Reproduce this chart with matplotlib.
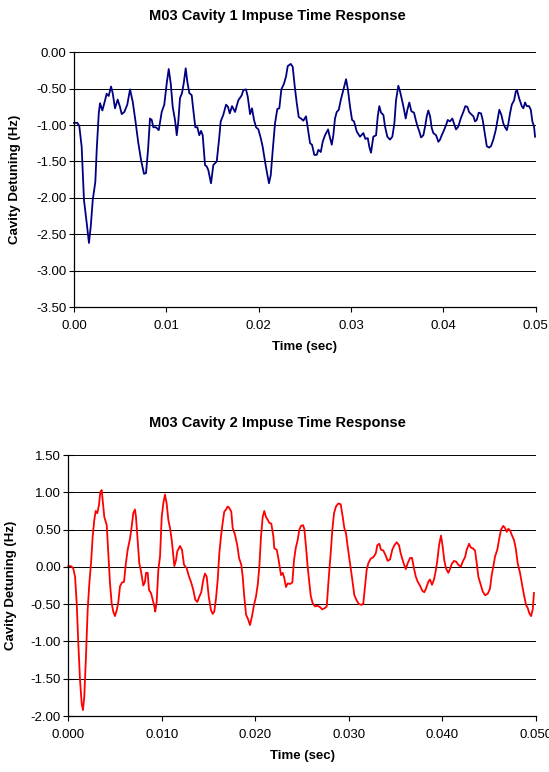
import matplotlib
matplotlib.use("Agg")
import matplotlib.pyplot as plt
import numpy as np

# Cavity 1 impulse response (time in ms, detuning in Hz)
t1_ms = [0.00, 0.36, 0.57, 0.83, 1.08, 1.38, 1.62, 1.81, 2.03, 2.31, 2.46, 2.68, 2.82, 3.07,
         3.28, 3.54, 3.76, 4.01, 4.19, 4.44, 4.73, 4.98, 5.17, 5.45, 5.77, 6.07, 6.36, 6.64,
         6.97, 7.26, 7.58, 7.80, 8.02, 8.23, 8.42, 8.59, 8.88, 9.18, 9.50, 9.78, 10.04, 10.26,
         10.48, 10.69, 10.94, 11.13, 11.30, 11.48, 11.70, 11.88, 12.10, 12.27, 12.49, 12.75,
         12.92, 13.14, 13.36, 13.57, 13.76, 13.94, 14.19, 14.38, 14.55, 14.84, 15.09, 15.46,
         15.71, 15.89, 16.17, 16.47, 16.68, 16.87, 17.12, 17.44, 17.80, 18.17, 18.34, 18.63,
         18.82, 19.07, 19.28, 19.50, 19.72, 19.97, 20.23, 20.44, 20.69, 20.91, 21.12, 21.31,
         21.53, 21.77, 22.02, 22.24, 22.46, 22.75, 22.97, 23.15, 23.48, 23.69, 23.91, 24.13,
         24.34, 24.59, 24.84, 25.13, 25.32, 25.57, 25.78, 26.03, 26.29, 26.47, 26.73, 26.94,
         27.19, 27.52, 27.66, 27.92, 28.09, 28.27, 28.46, 28.68, 28.89, 29.17, 29.47, 29.68,
         29.90, 30.12, 30.33, 30.63, 30.98, 31.34, 31.56, 31.82, 31.99, 32.17, 32.42, 32.72,
         32.90, 33.07, 33.26, 33.51, 33.69, 33.94, 34.23, 34.48, 34.70, 34.88, 35.13, 35.32,
         35.57, 35.75, 35.93, 36.11, 36.32, 36.54, 36.83, 37.02, 37.19, 37.41, 37.59, 37.84,
         38.06, 38.21, 38.38, 38.57, 38.75, 38.92, 39.22, 39.47, 39.65, 39.83, 40.08, 40.30,
         40.48, 40.73, 40.98, 41.17, 41.38, 41.63, 41.89, 42.17, 42.39, 42.61, 42.79, 43.01,
         43.26, 43.44, 43.62, 43.84, 44.09, 44.27, 44.49, 44.71, 44.96, 45.17, 45.42, 45.68,
         45.90, 46.07, 46.29, 46.51, 46.69, 46.88, 47.05, 47.23, 47.42, 47.67, 47.85, 47.99,
         48.21, 48.50, 48.67, 48.86, 49.04, 49.29, 49.48, 49.65, 49.83, 49.94]
det1 = [-0.97, -0.97, -1.01, -1.30, -2.03, -2.35, -2.62, -2.40, -2.03, -1.78, -1.34, -0.84,
        -0.70, -0.80, -0.70, -0.57, -0.60, -0.47, -0.56, -0.77, -0.65, -0.75, -0.85, -0.82,
        -0.72, -0.51, -0.68, -0.93, -1.25, -1.48, -1.67, -1.66, -1.34, -0.91, -0.93, -1.03,
        -1.03, -1.07, -0.82, -0.72, -0.43, -0.23, -0.43, -0.75, -0.93, -1.14, -0.95, -0.63,
        -0.56, -0.43, -0.22, -0.40, -0.56, -0.59, -0.79, -1.03, -1.03, -1.14, -1.08, -1.14,
        -1.55, -1.57, -1.62, -1.80, -1.55, -1.50, -1.20, -0.95, -0.86, -0.72, -0.75, -0.84,
        -0.74, -0.82, -0.66, -0.59, -0.52, -0.51, -0.61, -0.85, -0.77, -0.93, -1.03, -1.06,
        -1.18, -1.30, -1.50, -1.66, -1.80, -1.69, -1.34, -0.98, -0.78, -0.77, -0.51, -0.43,
        -0.33, -0.19, -0.16, -0.20, -0.47, -0.70, -0.89, -0.91, -0.94, -0.88, -1.04, -1.25,
        -1.27, -1.41, -1.41, -1.34, -1.37, -1.23, -1.14, -1.06, -1.14, -1.27, -1.14, -0.91,
        -0.82, -0.79, -0.66, -0.52, -0.37, -0.52, -0.75, -0.93, -0.95, -1.09, -1.16, -1.11,
        -1.19, -1.18, -1.30, -1.38, -1.16, -1.14, -0.88, -0.74, -0.83, -0.86, -1.02, -1.16,
        -1.20, -1.16, -0.98, -0.66, -0.46, -0.54, -0.68, -0.79, -0.91, -0.79, -0.69, -0.81,
        -0.83, -0.93, -1.01, -1.09, -1.17, -1.14, -1.00, -0.88, -0.80, -0.88, -1.04, -1.11,
        -1.14, -1.23, -1.20, -1.14, -1.07, -1.00, -0.93, -0.95, -0.91, -0.98, -1.06, -1.02,
        -0.91, -0.82, -0.74, -0.75, -0.82, -0.85, -0.88, -0.95, -0.93, -0.83, -0.84, -0.93,
        -1.11, -1.29, -1.31, -1.29, -1.20, -1.07, -0.91, -0.79, -0.86, -0.98, -1.03, -1.07,
        -0.98, -0.84, -0.72, -0.66, -0.54, -0.52, -0.63, -0.74, -0.77, -0.69, -0.74, -0.74,
        -0.79, -0.95, -1.02, -1.16]

# Cavity 2 impulse response (time in ms, detuning in Hz)
t2_ms = [0.00, 0.29, 0.53, 0.72, 0.90, 1.07, 1.25, 1.43, 1.57, 1.71, 1.89, 2.07, 2.25, 2.43,
         2.61, 2.78, 2.93, 3.10, 3.28, 3.42, 3.57, 3.71, 3.85, 4.11, 4.28, 4.46, 4.64, 4.81,
         4.99, 5.18, 5.35, 5.53, 5.74, 5.96, 6.14, 6.35, 6.60, 6.78, 6.95, 7.13, 7.24, 7.42,
         7.59, 7.78, 8.02, 8.20, 8.31, 8.49, 8.63, 8.84, 9.03, 9.20, 9.30, 9.45, 9.63, 9.81,
         9.99, 10.16, 10.34, 10.52, 10.70, 10.88, 11.06, 11.17, 11.34, 11.52, 11.66, 11.95,
         12.16, 12.37, 12.66, 12.91, 13.12, 13.37, 13.58, 13.80, 14.01, 14.22, 14.44, 14.62,
         14.80, 15.02, 15.26, 15.44, 15.61, 15.80, 15.98, 16.15, 16.33, 16.51, 16.68, 16.87,
         17.05, 17.22, 17.43, 17.58, 17.83, 18.07, 18.26, 18.50, 18.65, 18.82, 19.01, 19.22,
         19.43, 19.65, 19.86, 20.07, 20.26, 20.43, 20.61, 20.79, 20.96, 21.14, 21.33, 21.50,
         21.71, 21.93, 22.03, 22.29, 22.46, 22.64, 22.75, 22.93, 23.10, 23.28, 23.47, 23.71,
         23.96, 24.14, 24.32, 24.53, 24.71, 24.89, 25.10, 25.24, 25.42, 25.60, 25.78, 25.93,
         26.14, 26.39, 26.63, 26.92, 27.17, 27.45, 27.64, 27.81, 28.06, 28.24, 28.42, 28.63,
         28.88, 29.13, 29.35, 29.52, 29.70, 29.88, 30.13, 30.37, 30.59, 30.84, 31.09, 31.38,
         31.55, 31.73, 31.91, 32.09, 32.34, 32.62, 32.88, 33.05, 33.26, 33.44, 33.69, 33.95,
         34.16, 34.41, 34.65, 34.87, 35.12, 35.37, 35.55, 35.83, 36.09, 36.30, 36.55, 36.76,
         36.97, 37.16, 37.37, 37.61, 37.86, 38.07, 38.26, 38.50, 38.68, 38.90, 39.11, 39.29,
         39.47, 39.65, 39.86, 40.04, 40.21, 40.39, 40.64, 40.82, 41.01, 41.25, 41.47, 41.71,
         41.97, 42.18, 42.43, 42.61, 42.86, 43.04, 43.25, 43.50, 43.68, 43.85, 44.11, 44.32,
         44.57, 44.86, 45.10, 45.28, 45.45, 45.64, 45.88, 46.06, 46.28, 46.52, 46.71, 46.89,
         47.06, 47.24, 47.42, 47.67, 47.85, 48.06, 48.31, 48.56, 48.74, 48.95, 49.13, 49.30,
         49.49, 49.67, 49.80]
det2 = [0.01, 0.01, -0.02, -0.13, -0.49, -1.02, -1.51, -1.83, -1.92, -1.74, -1.20, -0.58,
        -0.22, 0.05, 0.41, 0.63, 0.75, 0.72, 0.83, 1.00, 1.03, 0.85, 0.67, 0.56, 0.18, -0.22,
        -0.49, -0.60, -0.66, -0.58, -0.47, -0.26, -0.21, -0.20, 0.03, 0.23, 0.38, 0.54, 0.72,
        0.77, 0.67, 0.36, 0.05, -0.06, -0.25, -0.20, -0.08, -0.08, -0.31, -0.35, -0.44, -0.53,
        -0.60, -0.47, -0.04, 0.14, 0.67, 0.85, 0.97, 0.85, 0.63, 0.52, 0.36, 0.23, 0.01, 0.09,
        0.21, 0.28, 0.23, 0.03, -0.02, -0.13, -0.20, -0.31, -0.44, -0.47, -0.40, -0.34, -0.17,
        -0.09, -0.13, -0.40, -0.58, -0.63, -0.60, -0.42, -0.17, 0.18, 0.41, 0.59, 0.74, 0.77,
        0.81, 0.79, 0.74, 0.52, 0.43, 0.29, 0.12, 0.03, -0.13, -0.40, -0.64, -0.70, -0.78,
        -0.66, -0.51, -0.40, -0.24, 0.00, 0.41, 0.67, 0.75, 0.67, 0.63, 0.59, 0.58, 0.41, 0.25,
        0.23, 0.12, -0.02, -0.11, -0.08, -0.15, -0.27, -0.22, -0.23, -0.21, 0.09, 0.25, 0.36,
        0.50, 0.55, 0.56, 0.51, 0.27, 0.00, -0.22, -0.39, -0.49, -0.53, -0.52, -0.54, -0.57,
        -0.55, -0.53, -0.22, 0.18, 0.50, 0.72, 0.81, 0.85, 0.84, 0.67, 0.52, 0.45, 0.27, 0.05,
        -0.17, -0.38, -0.45, -0.50, -0.51, -0.49, -0.26, -0.04, 0.05, 0.11, 0.13, 0.18, 0.29,
        0.31, 0.23, 0.22, 0.15, 0.08, 0.10, 0.23, 0.29, 0.33, 0.29, 0.18, 0.06, -0.03, 0.05,
        0.12, 0.12, -0.02, -0.13, -0.20, -0.25, -0.32, -0.34, -0.29, -0.20, -0.17, -0.24,
        -0.17, -0.06, 0.09, 0.29, 0.42, 0.27, 0.09, -0.02, -0.08, -0.03, 0.04, 0.08, 0.07,
        0.03, 0.00, 0.07, 0.13, 0.23, 0.31, 0.26, 0.25, 0.22, 0.05, -0.13, -0.24, -0.33, -0.38,
        -0.36, -0.29, -0.11, 0.00, 0.14, 0.23, 0.36, 0.50, 0.55, 0.52, 0.47, 0.51, 0.49, 0.43,
        0.36, 0.25, 0.05, -0.08, -0.26, -0.38, -0.51, -0.55, -0.62, -0.66, -0.57, -0.35]

TITLES = ["M03 Cavity 1 Impuse Time Response", "M03 Cavity 2 Impuse Time Response"]
X_LABEL = "Time (sec)"
Y_LABEL = "Cavity Detuning (Hz)"
Y_TICKS_1 = np.arange(-3.5, 0.01, 0.5)
Y_TICKS_2 = np.arange(-2.0, 1.51, 0.5)
X_TICKS = np.arange(0, 0.0501, 0.01)

plt.rcParams["font.family"] = ["Liberation Sans", "DejaVu Sans"]

fig = plt.figure(figsize=(5.49, 7.72), dpi=100)
ax1 = fig.add_axes([0.1348, 0.6023, 0.8408, 0.3300])
ax2 = fig.add_axes([0.1244, 0.0725, 0.8516, 0.3381])


def style_axis(ax, yticks, ylim, xfmt, ylab_x):
    ax.set_xlim(0, 0.05)
    ax.set_ylim(*ylim)
    ax.set_xticks(X_TICKS)
    ax.set_xticklabels([xfmt.format(v) for v in X_TICKS])
    ax.set_yticks(yticks)
    ax.set_yticklabels([f"{v:.2f}" for v in yticks])
    for s in ("top", "right"):
        ax.spines[s].set_visible(False)
    for s in ("left", "bottom"):
        ax.spines[s].set_linewidth(0.9)
        ax.spines[s].set_color("black")
    ax.yaxis.grid(True, color="black", linewidth=0.7)
    ax.set_axisbelow(True)
    ax.tick_params(axis="both", width=0.8, labelsize=9.5, colors="black")
    ax.tick_params(axis="y", direction="inout", length=6.5, pad=2)
    ax.tick_params(axis="x", direction="out", length=3.5, pad=6)
    ax.set_xlabel(X_LABEL, fontsize=9.5, fontweight="bold", labelpad=6)
    ax.set_ylabel(Y_LABEL, fontsize=9.5, fontweight="bold")
    ax.yaxis.set_label_coords(ylab_x, 0.5)


t1 = np.array(t1_ms) / 1000.0
t2 = np.array(t2_ms) / 1000.0

ax1.plot(t1, det1, color="#000080", linewidth=1.3, clip_on=False)
style_axis(ax1, Y_TICKS_1, (-3.5, 0.0), "{:.2f}", -0.114)

ax2.plot(t2, det2, color="#FF0000", linewidth=1.3, clip_on=False)
style_axis(ax2, Y_TICKS_2, (-2.0, 1.5), "{:.3f}", -0.109)

fig.text(0.506, 1 - 15.8 / 772, TITLES[0], ha="center", va="center",
         fontsize=10.5, fontweight="bold")
fig.text(0.506, 1 - 423 / 772, TITLES[1], ha="center", va="center",
         fontsize=10.5, fontweight="bold")

fig.savefig("out.png", dpi=100)
plt.close(fig)
